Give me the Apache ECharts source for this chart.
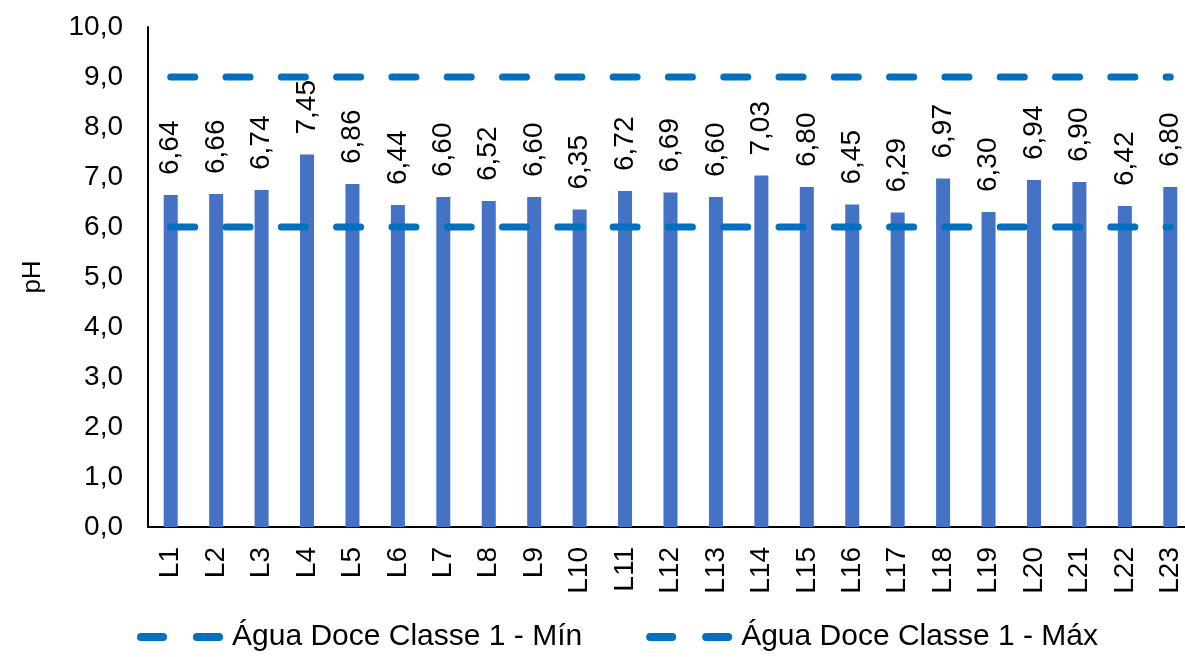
<!DOCTYPE html>
<html>
<head>
<meta charset="utf-8">
<script src="https://cdn.jsdelivr.net/npm/echarts@6/dist/echarts.min.js"></script>
<style>
    html, body { margin: 0; padding: 0; background: #fff; }
    #ph_chart { width: 1185px; height: 657px; }
</style>
</head>
<body>
<div id="ph_chart"></div>
<script>
// Data
// ------------------------------

var points = ['L1', 'L2', 'L3', 'L4', 'L5', 'L6', 'L7', 'L8', 'L9', 'L10', 'L11', 'L12',
    'L13', 'L14', 'L15', 'L16', 'L17', 'L18', 'L19', 'L20', 'L21', 'L22', 'L23'];
var ph_values = [6.64, 6.66, 6.74, 7.45, 6.86, 6.44, 6.60, 6.52, 6.60, 6.35, 6.72, 6.69,
    6.60, 7.03, 6.80, 6.45, 6.29, 6.97, 6.30, 6.94, 6.90, 6.42, 6.80];
var limit_min = 6;
var limit_max = 9;
var limit_names = ['Água Doce Classe 1 - Mín', 'Água Doce Classe 1 - Máx'];

function comma(v, digits) {
    return v.toFixed(digits).replace('.', ',');
}

// Initialize chart
// ------------------------------

var ph_chart = echarts.init(document.getElementById('ph_chart'));

var font = 'Liberation Sans, Arial, sans-serif';
var blue_line = '#0070C0';
var dashed = {
    color: blue_line,
    width: 7,
    type: [24, 31.3],
    cap: 'round'
};
// two rounded dashes, as drawn in the legend
var dash_icon = 'path://M4,0H26A4,4,0,0,1,26,8H4A4,4,0,0,1,4,0Z' +
    'M60,0H82A4,4,0,0,1,82,8H60A4,4,0,0,1,60,0Z';

var ph_options = {
    animation: false,
    textStyle: { fontFamily: font },

    legend: {
        bottom: 0,
        left: 132,
        itemWidth: 86,
        itemHeight: 8,
        itemGap: 64,
        textStyle: { fontSize: 30, color: '#000', fontFamily: font, padding: [0, 0, 0, 4] },
        data: limit_names.map(function (n) {
            return { name: n, icon: dash_icon, itemStyle: { color: blue_line } };
        })
    },

    grid: {
        left: 148,
        top: 27,
        width: 1045,
        height: 500,
        outerBoundsMode: 'none'
    },

    xAxis: {
        type: 'category',
        data: points,
        axisLine: { lineStyle: { color: '#000', width: 2 } },
        axisTick: { show: false },
        axisLabel: {
            rotate: 90,
            margin: 20,
            fontSize: 28,
            color: '#000',
            fontFamily: font
        }
    },

    yAxis: {
        type: 'value',
        min: 0,
        max: 10,
        interval: 1,
        name: 'pH',
        nameLocation: 'middle',
        nameGap: 102,
        nameTextStyle: { fontSize: 26, color: '#000', fontFamily: font },
        axisLine: { show: true, lineStyle: { color: '#000', width: 2 } },
        axisTick: { show: false },
        splitLine: { show: false },
        axisLabel: {
            margin: 25,
            fontSize: 28,
            color: '#000',
            fontFamily: font,
            formatter: function (v) { return comma(v, 1); }
        }
    },

    series: [{
        name: 'pH',
        type: 'bar',
        data: ph_values,
        barWidth: 14,
        itemStyle: { color: '#4472C4' },
        label: {
            show: true,
            position: 'top',
            rotate: 90,
            align: 'left',
            verticalAlign: 'middle',
            distance: 20,
            fontSize: 28,
            color: '#000',
            fontFamily: font,
            formatter: function (p) { return comma(p.value, 2); }
        },
        z: 2
    }, {
        name: limit_names[0],
        type: 'line',
        data: points.map(function () { return limit_min; }),
        symbol: 'none',
        lineStyle: dashed,
        itemStyle: { color: blue_line },
        z: 3
    }, {
        name: limit_names[1],
        type: 'line',
        data: points.map(function () { return limit_max; }),
        symbol: 'none',
        lineStyle: dashed,
        itemStyle: { color: blue_line },
        z: 3
    }]
};

ph_chart.setOption(ph_options);

window.onresize = function () {
    setTimeout(function () {
        ph_chart.resize();
    }, 200);
};
</script>
</body>
</html>
